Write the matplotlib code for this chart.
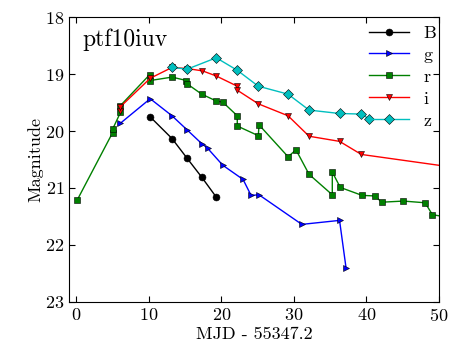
import matplotlib
matplotlib.use("Agg")
import matplotlib.pyplot as plt

plt.rcParams['font.family'] = ['cmr10', 'DejaVu Serif']
plt.rcParams['mathtext.fontset'] = 'cm'
plt.rcParams['axes.formatter.use_mathtext'] = True

# light curves of ptf10iuv (days since MJD 55347.2, magnitude)
B_t = [10.2, 13.2, 15.3, 17.3, 19.3]
B_m = [19.75, 20.13, 20.48, 20.81, 21.16]

g_t = [6.1, 10.2, 13.2, 15.3, 17.3, 18.1, 20.2, 23.0, 24.1, 25.2, 31.1, 36.3, 37.2]
g_m = [19.86, 19.43, 19.73, 19.98, 20.22, 20.30, 20.60, 20.85, 21.13, 21.12, 21.64, 21.57, 22.41]

r_t = [0.1, 5.0, 5.0, 6.1, 6.1, 10.1, 10.2, 13.2, 15.2, 15.3, 17.3, 19.3, 20.2, 22.2, 22.2,
       25.1, 25.2, 29.2, 30.3, 32.1, 35.3, 35.3, 36.4, 39.4, 41.2, 42.1, 45.1, 48.1, 49.1, 52.0]
r_m = [21.22, 20.03, 19.97, 19.67, 19.55, 19.01, 19.11, 19.05, 19.11, 19.17, 19.35, 19.47, 19.49, 19.73, 19.91,
       20.08, 19.89, 20.45, 20.33, 20.76, 21.12, 20.72, 20.99, 21.13, 21.14, 21.25, 21.23, 21.26, 21.47, 21.53]

i_t = [6.1, 6.1, 10.2, 13.2, 15.3, 17.4, 19.3, 22.2, 22.2, 25.1, 29.2, 32.1, 36.3, 39.3, 55.0]
i_m = [19.64, 19.57, 19.07, 18.88, 18.90, 18.94, 19.03, 19.21, 19.28, 19.52, 19.73, 20.09, 20.18, 20.41, 20.69]

z_t = [13.2, 15.3, 19.3, 22.2, 25.1, 29.2, 32.1, 36.3, 39.3, 40.3]
z_m = [18.88, 18.91, 18.71, 18.93, 19.21, 19.35, 19.63, 19.69, 19.70, 19.78]

fig = plt.figure(figsize=(4.63, 3.48), dpi=100)
ax = fig.add_axes([0.149, 0.133, 0.799, 0.817])

kw = dict(lw=1, ms=5, mec='k', mew=0.4)
ax.plot(B_t, B_m, 'o-', color='k', label='B', **kw)
ax.plot(g_t, g_m, '>-', color='b', label='g', **kw)
ax.plot(r_t, r_m, 's-', color='g', label='r', **kw)
ax.plot(i_t, i_m, 'v-', color='r', label='i', **kw)
ax.plot(z_t, z_m, 'D-', color='c', label='z', **kw)

ax.set_xlim(-1, 50)
ax.set_ylim(23, 18)
ax.set_xticks([0, 10, 20, 30, 40, 50])
ax.set_yticks([18, 19, 20, 21, 22, 23])
ax.tick_params(direction='in', top=True, right=True, labelsize=13, length=4)
ax.set_xlabel('MJD - 55347.2', fontsize=13, labelpad=2)
ax.set_ylabel('Magnitude', fontsize=13, labelpad=1)
ax.text(0.035, 0.96, 'ptf10iuv', transform=ax.transAxes, fontsize=17, va='top')
ax.legend(loc='upper right', frameon=False, fontsize=13, handlelength=2.2,
          numpoints=1, labelspacing=0.35, borderaxespad=0.3,
          bbox_to_anchor=(1.027, 1.017))

fig.savefig('out.png', dpi=100)
